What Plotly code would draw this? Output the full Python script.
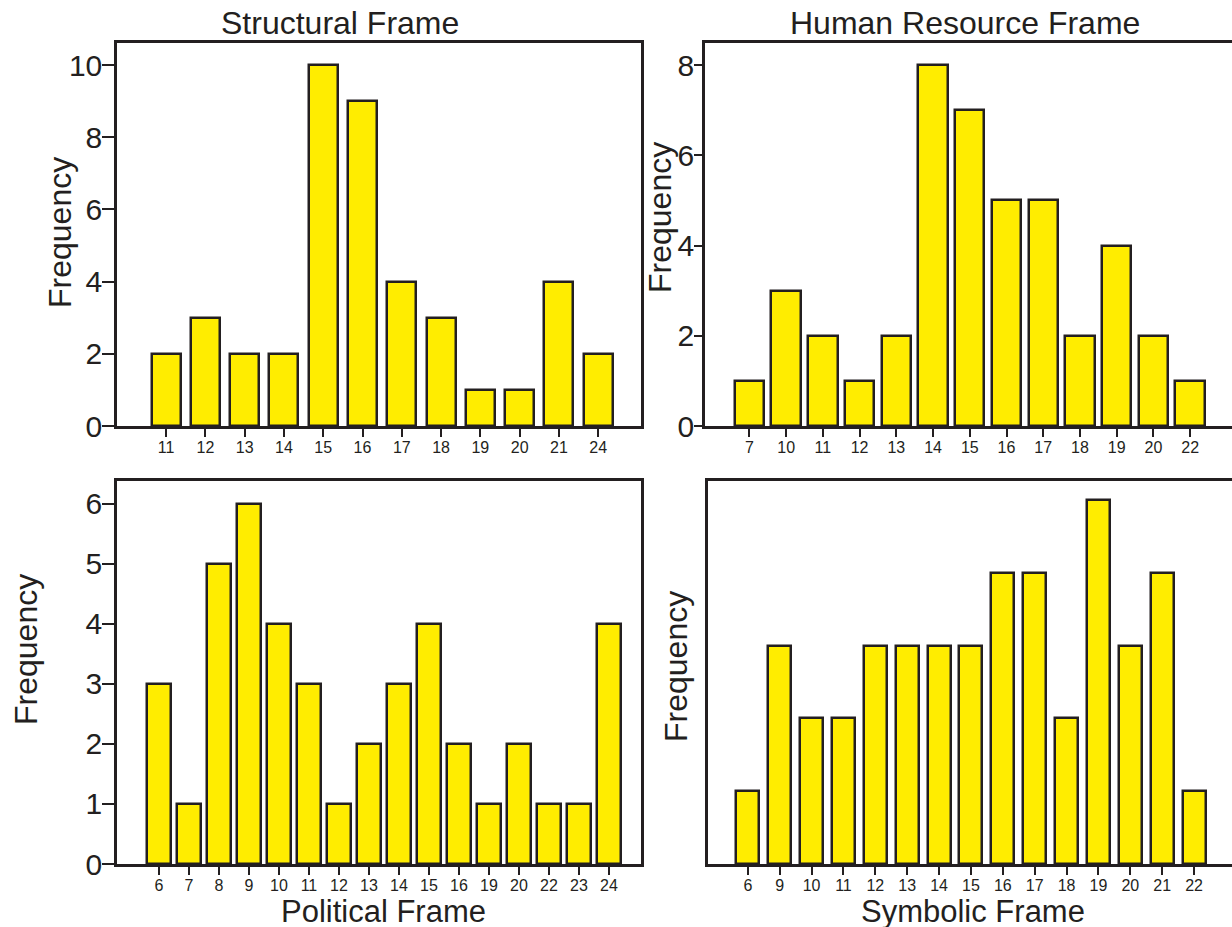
import plotly.graph_objects as go

# ---------------- data ----------------
structural_cats = ["11", "12", "13", "14", "15", "16", "17", "18", "19", "20", "21", "24"]
structural_freq = [2, 3, 2, 2, 10, 9, 4, 3, 1, 1, 4, 2]

human_cats = ["7", "10", "11", "12", "13", "14", "15", "16", "17", "18", "19", "20", "22"]
human_freq = [1, 3, 2, 1, 2, 8, 7, 5, 5, 2, 4, 2, 1]

political_cats = ["6", "7", "8", "9", "10", "11", "12", "13", "14", "15", "16", "19", "20", "22", "23", "24"]
political_freq = [3, 1, 5, 6, 4, 3, 1, 2, 3, 4, 2, 1, 2, 1, 1, 4]

symbolic_cats = ["6", "9", "10", "11", "12", "13", "14", "15", "16", "17", "18", "19", "20", "21", "22"]
symbolic_freq = [1, 3, 2, 2, 3, 3, 3, 3, 4, 4, 2, 5, 3, 4, 1]

structural_yticks = [0, 2, 4, 6, 8, 10]
human_yticks = [0, 2, 4, 6, 8]
political_yticks = [0, 1, 2, 3, 4, 5, 6]

# ---------------- style ----------------
REF_W, REF_H = 1232, 927
W, H = 1232, 943
INK = "#231f20"
FILL = "#ffed00"
FONT = "Liberation Sans, Arial, sans-serif"

fig = go.Figure()

panels = [
    # cats, vals, axis suffix, bar width
    (structural_cats, structural_freq, "", 0.74),
    (human_cats, human_freq, "2", 0.8),
    (political_cats, political_freq, "3", 0.82),
    (symbolic_cats, symbolic_freq, "4", 0.72),
]
for cats, vals, s, bw in panels:
    fig.add_trace(go.Bar(
        x=cats, y=vals, width=bw,
        xaxis="x" + s, yaxis="y" + s,
        marker=dict(color=FILL, line=dict(color=INK, width=2.5)),
        showlegend=False, hoverinfo="x+y",
    ))

def px_x(p):
    return p / REF_W

def px_y(p):
    return 1 - p / REF_H

top_dom = [px_y(426), px_y(43)]
bot_dom = [px_y(864), px_y(481)]

xcommon = dict(type="category", showline=True, linecolor=INK, linewidth=2.5,
               ticks="outside", ticklen=8, tickwidth=2, tickcolor=INK,
               tickfont=dict(family=FONT, size=16, color=INK),
               ticklabelstandoff=-3,
               showgrid=False, zeroline=False, fixedrange=True)
ycommon = dict(showline=True, linecolor=INK, linewidth=2.5,
               ticks="outside", ticklen=12, tickwidth=2, tickcolor=INK,
               tickfont=dict(family=FONT, size=30, color=INK),
               ticklabelstandoff=-6,
               showgrid=False, zeroline=False, fixedrange=True)

fig.update_layout(
    width=W, height=H,
    margin=dict(l=0, r=0, t=0, b=0),
    paper_bgcolor="white", plot_bgcolor="white",
    bargap=0,
    xaxis=dict(xcommon, domain=[px_x(117), px_x(641)], anchor="y", mirror=True,
               range=[-1.25, 12.09]),
    yaxis=dict(ycommon, domain=top_dom, anchor="x", mirror=True,
               range=[0, 10.61], tickvals=structural_yticks),
    xaxis2=dict(xcommon, domain=[px_x(705), 1.0], anchor="y2", mirror=True,
                range=[-1.21, 13.14]),
    yaxis2=dict(ycommon, domain=top_dom, anchor="x2", mirror=False, ticklen=8,
                range=[0, 8.49], tickvals=human_yticks),
    xaxis3=dict(xcommon, domain=[px_x(117), px_x(641)], anchor="y3", mirror=True,
                range=[-1.4, 16.07]),
    yaxis3=dict(ycommon, domain=bot_dom, anchor="x3", mirror=True,
                range=[0, 6.38], tickvals=political_yticks),
    xaxis4=dict(xcommon, domain=[px_x(708), 1.0], anchor="y4", mirror=True,
                range=[-1.25, 15.19]),
    yaxis4=dict(ycommon, domain=bot_dom, anchor="x4", mirror=False,
                range=[0, 5.26], showticklabels=False, ticks=""),
)

def label(text, x, y, size=32, angle=0):
    fig.add_annotation(text=text, x=px_x(x), y=px_y(y), xref="paper", yref="paper",
                       xanchor="center", yanchor="middle", showarrow=False,
                       textangle=angle, font=dict(family=FONT, size=size, color=INK))

label("Structural Frame", 340, 23)
label("Human Resource Frame", 965, 23)
label("Political Frame", 383, 911, size=31)
label("Symbolic Frame", 973, 911, size=31)
label("Frequency", 60, 233, angle=-90)
label("Frequency", 660, 218, angle=-90)
label("Frequency", 26, 650, angle=-90)
label("Frequency", 676, 667, angle=-90)

fig.write_html(
    "out.html",
    config={"displayModeBar": False},
    post_script="document.body.style.margin='0';document.body.style.padding='0';",
)
